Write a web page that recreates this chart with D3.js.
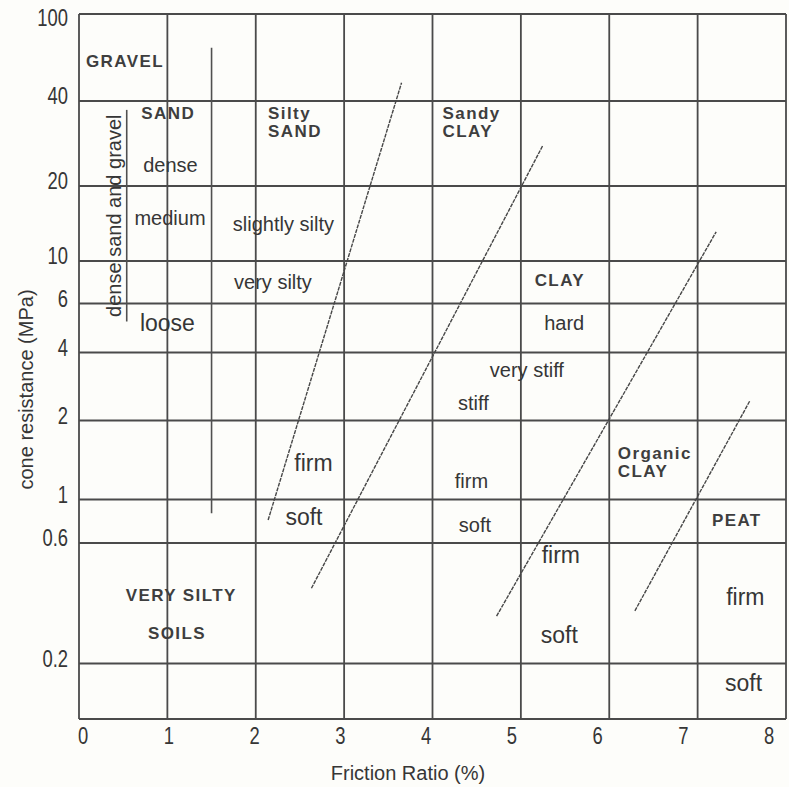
<!DOCTYPE html>
<html>
<head>
<meta charset="utf-8">
<script src="https://cdn.jsdelivr.net/npm/d3@7"></script>
<style>
  html, body { margin: 0; padding: 0; background: #fdfdfa; }
  svg { display: block; }
  .regular { font-family: "Liberation Sans", Arial, sans-serif; }
</style>
</head>
<body>
<svg id="chart" width="789" height="787"></svg>
<script>
// Friction ratio (%) along the bottom, cone resistance (MPa) up the side
const frictionTicks = [0, 1, 2, 3, 4, 5, 6, 7, 8];
const resistanceTicks = [100, 40, 20, 10, 6, 4, 2, 1, 0.6, 0.2];
const resistanceFloor = 0.12;

// Sloping zone boundaries: [friction, resistance] end points
const zoneBoundaries = [
  [[2.14, 0.786], [3.65, 48.5]],
  [[2.63, 0.397], [5.25, 27.9]],
  [[4.725, 0.308], [7.21, 13.1]],
  [[6.29, 0.323], [7.59, 2.44]]
];

// Vertical separators: friction value, resistance at top and bottom
const separatorX = [1.5, 0.54];
const separatorTop = [70, 37.2];
const separatorBottom = [0.85, 5.17];

// Zone names (bold capitals)
const zoneNames = [
  { lines: ["GRAVEL"], x: 0.52, y: 61, anchor: "middle" },
  { lines: ["SAND"], x: 1.01, y: 36.3, anchor: "middle" },
  { lines: ["Silty", "SAND"], x: 2.14, y: 36.3, anchor: "start" },
  { lines: ["Sandy", "CLAY"], x: 4.114, y: 36.3, anchor: "start" },
  { lines: ["CLAY"], x: 5.441, y: 7.96, anchor: "middle" },
  { lines: ["Organic", "CLAY"], x: 6.097, y: 1.504, anchor: "start" },
  { lines: ["PEAT"], x: 7.443, y: 0.786, anchor: "middle" },
  { lines: ["VERY SILTY"], x: 1.157, y: 0.3735, anchor: "middle" },
  { lines: ["SOILS"], x: 1.109, y: 0.265, anchor: "middle" }
];

// Density / consistency descriptors
const descriptors = [
  { text: "dense", x: 1.035, y: 23.7, big: false },
  { text: "medium", x: 1.03, y: 14.9, big: false },
  { text: "loose", x: 1.0, y: 5.1, big: true },
  { text: "slightly silty", x: 2.313, y: 14.08, big: false },
  { text: "very silty", x: 2.195, y: 7.8, big: false },
  { text: "firm", x: 2.653, y: 1.377, big: true },
  { text: "soft", x: 2.545, y: 0.817, big: true },
  { text: "hard", x: 5.49, y: 5.1, big: false },
  { text: "very stiff", x: 5.068, y: 3.35, big: false },
  { text: "stiff", x: 4.463, y: 2.39, big: false },
  { text: "firm", x: 4.44, y: 1.176, big: false },
  { text: "soft", x: 4.48, y: 0.741, big: false },
  { text: "firm", x: 5.452, y: 0.538, big: true },
  { text: "soft", x: 5.435, y: 0.2594, big: true },
  { text: "firm", x: 7.54, y: 0.3677, big: true },
  { text: "soft", x: 7.52, y: 0.167, big: true }
];

const sideNote = { text: "dense sand and gravel", x: 0.40, y: 15.2 };

// ---- layout ----
const plot = { left: 79, right: 786, top: 14, bottom: 719 };
const rowPixels = [14, 101, 186, 261, 303.5, 352.5, 420.5, 499.5, 543, 663.5, 719];
const ink = "#363636";
const gridInk = "#4a4a4a";
const squeeze = 0.8;   // condensed look of the axis numerals

const svg = d3.select("#chart");

const x = d3.scaleLinear().domain([0, 8]).range([plot.left, plot.right]);
const xLabel = d3.scaleLinear().domain([0, 8]).range([83, 769]);
const yLog = d3.scaleLinear()
  .domain(resistanceTicks.concat([resistanceFloor]).map(Math.log10))
  .range(rowPixels);
const y = v => yLog(Math.log10(v));

// grid
const grid = svg.append("g").attr("stroke", gridInk).attr("stroke-width", 1.8).attr("fill", "none");
grid.selectAll("line.h")
  .data(resistanceTicks)
  .join("line")
  .attr("class", "h")
  .attr("x1", x(0)).attr("x2", x(8))
  .attr("y1", d => y(d)).attr("y2", d => y(d));
grid.selectAll("line.v")
  .data(frictionTicks)
  .join("line")
  .attr("class", "v")
  .attr("x1", d => x(d)).attr("x2", d => x(d))
  .attr("y1", y(100)).attr("y2", y(resistanceFloor));
grid.append("line")
  .attr("x1", x(0)).attr("x2", x(8))
  .attr("y1", y(resistanceFloor)).attr("y2", y(resistanceFloor));

// vertical separators
svg.append("g").selectAll("line")
  .data(separatorX)
  .join("line")
  .attr("x1", d => x(d)).attr("x2", d => x(d))
  .attr("y1", (d, i) => y(separatorTop[i]))
  .attr("y2", (d, i) => y(separatorBottom[i]))
  .attr("stroke", "#505050").attr("stroke-width", 1.6);

// sloping boundaries
const boundaryLine = d3.line().x(d => x(d[0])).y(d => y(d[1]));
svg.append("g").selectAll("path")
  .data(zoneBoundaries)
  .join("path")
  .attr("d", boundaryLine)
  .attr("fill", "none")
  .attr("stroke", "#474747")
  .attr("stroke-width", 1.4)
  .attr("stroke-dasharray", "4,1");

// y axis labels
const yAxis = d3.axisLeft(yLog)
  .tickValues(resistanceTicks.map(Math.log10))
  .tickFormat(d => d3.format("~g")(+Math.pow(10, d).toPrecision(3)))
  .tickSize(0)
  .tickPadding(11 / squeeze);
const gy = svg.append("g").attr("transform", `translate(${plot.left},0)`).call(yAxis);
gy.select(".domain").remove();
gy.selectAll("text")
  .attr("class", "regular")
  .attr("font-size", 23)
  .attr("fill", ink)
  .attr("dy", "0.34em")
  .attr("y", (d, i) => i === 0 ? 4 : -5)
  .attr("transform", `scale(${squeeze},1)`);

// x axis labels
const xAxis = d3.axisBottom(xLabel).tickValues(frictionTicks).tickSize(0).tickPadding(9);
const gx = svg.append("g").attr("transform", `translate(0,${plot.bottom})`).call(xAxis);
gx.select(".domain").remove();
gx.selectAll("text")
  .attr("class", "regular")
  .attr("font-size", 23)
  .attr("fill", ink)
  .attr("transform", `scale(${squeeze},1)`);
gx.selectAll(".tick").attr("transform", d => `translate(${xLabel(d)},0)`);

// axis titles
svg.append("text")
  .attr("class", "regular")
  .attr("transform", "translate(33,389.5) rotate(-90)")
  .attr("text-anchor", "middle")
  .attr("font-size", 20)
  .attr("fill", ink)
  .text("cone resistance (MPa)");
svg.append("text")
  .attr("class", "regular")
  .attr("x", 408).attr("y", 780)
  .attr("text-anchor", "middle")
  .attr("font-size", 20)
  .attr("fill", ink)
  .text("Friction Ratio (%)");

// zone names
const names = svg.append("g").selectAll("text")
  .data(zoneNames)
  .join("text")
  .attr("class", "regular")
  .attr("font-weight", "bold")
  .attr("font-size", 17)
  .attr("letter-spacing", 1.4)
  .attr("fill", "#3e3e3e")
  .attr("text-anchor", d => d.anchor)
  .attr("x", d => x(d.x))
  .attr("y", d => y(d.y));
names.selectAll("tspan")
  .data(d => d.lines.map(t => ({ t, px: x(d.x) })))
  .join("tspan")
  .attr("x", d => d.px)
  .attr("dy", (d, i) => i === 0 ? "0.35em" : "1.08em")
  .text(d => d.t);

// descriptors
svg.append("g").selectAll("text")
  .data(descriptors)
  .join("text")
  .attr("class", "regular")
  .attr("font-size", d => d.big ? 23 : 20)
  .attr("fill", ink)
  .attr("text-anchor", "middle")
  .attr("x", d => x(d.x))
  .attr("y", d => y(d.y))
  .attr("dy", "0.35em")
  .text(d => d.text);

// rotated note beside the sand column
svg.append("text")
  .attr("class", "regular")
  .attr("font-size", 20)
  .attr("fill", ink)
  .attr("text-anchor", "middle")
  .attr("transform", `translate(${x(sideNote.x)},${y(sideNote.y)}) rotate(-90)`)
  .attr("dy", "0.35em")
  .text(sideNote.text);
</script>
</body>
</html>
